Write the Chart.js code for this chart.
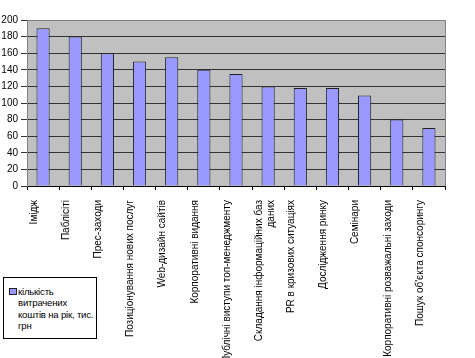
<!DOCTYPE html>
<html>
<head>
<meta charset="utf-8">
<script src="https://cdn.jsdelivr.net/npm/chart.js@4.4.0/dist/chart.umd.min.js"></script>
<style>
  html, body { margin: 0; padding: 0; background: #fff; }
  #wrap { position: relative; width: 475px; height: 358px; overflow: hidden; }
  #legend {
    position: absolute; left: 3px; top: 277px; width: 92px; height: 60px;
    border: 1px solid #000; background: #fff;
    font: 9.6px "Liberation Sans", Arial, sans-serif; color: #000;
    line-height: 11.3px;
  }
  #legend .mark {
    position: absolute; left: 5px; top: 10px; width: 6px; height: 5px;
    background: #9999ff; border: 1px solid #222;
  }
  #legend .txt { position: absolute; left: 14px; top: 8px; white-space: nowrap; letter-spacing: -0.2px; }
</style>
</head>
<body>
<div id="wrap">
  <canvas id="myChart" width="475" height="358"></canvas>
  <div id="legend"><span class="mark"></span><div class="txt">кількість<br>витрачених<br>коштів на рік, тис.<br>грн</div></div>
</div>
<script>
let categories = [
    'Імідж',
    'Паблісіті',
    'Прес-заходи',
    'Позиціонування нових послуг',
    'Web-дизайн сайтів',
    'Корпоративні видання',
    'Публічні виступи топ-менеджменту',
    ['Складання інформаційних баз', 'даних'],
    'PR в кризових ситуаціях',
    'Дослідження ринку',
    'Семінари',
    'Корпоративні розважальні заходи',
    "Пошук об'єкта спонсорингу"
];
let seriesName = 'кількість витрачених коштів на рік, тис. грн';
let values = [190, 180, 160, 150, 155, 140, 135, 120, 118, 118, 109, 80, 70];
let yMin = 0;
let yMax = 200;
let yStep = 20;

// grey plot background + top/right frame
let plotBg = {
    id: 'plotBg',
    beforeDraw(chart) {
        let a = chart.chartArea, ctx = chart.ctx;
        ctx.save();
        ctx.fillStyle = '#c0c0c0';
        ctx.fillRect(a.left, a.top, a.right - a.left, a.bottom - a.top);
        ctx.restore();
    },
    afterDraw(chart) {
        let a = chart.chartArea, ctx = chart.ctx;
        ctx.save();
        ctx.strokeStyle = '#808080';
        ctx.lineWidth = 1;
        ctx.beginPath();
        ctx.moveTo(a.left, a.top + 0.5);
        ctx.lineTo(a.right + 0.5, a.top + 0.5);
        ctx.lineTo(a.right + 0.5, a.bottom);
        ctx.stroke();
        ctx.restore();
    }
};

let fontFam = '"Liberation Sans", Arial, sans-serif';

let ctx1 = document.getElementById('myChart').getContext('2d');
let chart1 = new Chart(ctx1, {
    type: 'bar',
    data: {
        labels: categories,
        datasets: [{
            label: seriesName,
            data: values,
            backgroundColor: '#9999ff',
            borderColor: '#222222',
            borderWidth: 1,
            categoryPercentage: 1,
            barPercentage: 0.41
        }]
    },
    options: {
        responsive: false,
        animation: false,
        layout: { padding: { top: 20, right: 30, left: 0, bottom: 0 } },
        plugins: {
            legend: { display: false },
            tooltip: { enabled: false }
        },
        scales: {
            x: {
                grid: {
                    offset: true,
                    drawOnChartArea: false,
                    tickLength: 4,
                    color: '#000'
                },
                border: { color: '#000' },
                ticks: {
                    color: '#000',
                    font: { family: fontFam, size: 10 },
                    minRotation: 90,
                    maxRotation: 90,
                    autoSkip: false,
                    padding: 10,
                    labelOffset: -9
                },
                afterFit(scale) { scale.height = 172; }
            },
            y: {
                min: yMin,
                max: yMax,
                grid: { color: '#333', tickLength: 6 },
                border: { color: '#808080' },
                ticks: {
                    stepSize: yStep,
                    color: '#000',
                    padding: 3,
                    font: { family: fontFam, size: 10 }
                },
                afterFit(scale) { scale.width = 27; }
            }
        }
    },
    plugins: [plotBg]
});
</script>
</body>
</html>
